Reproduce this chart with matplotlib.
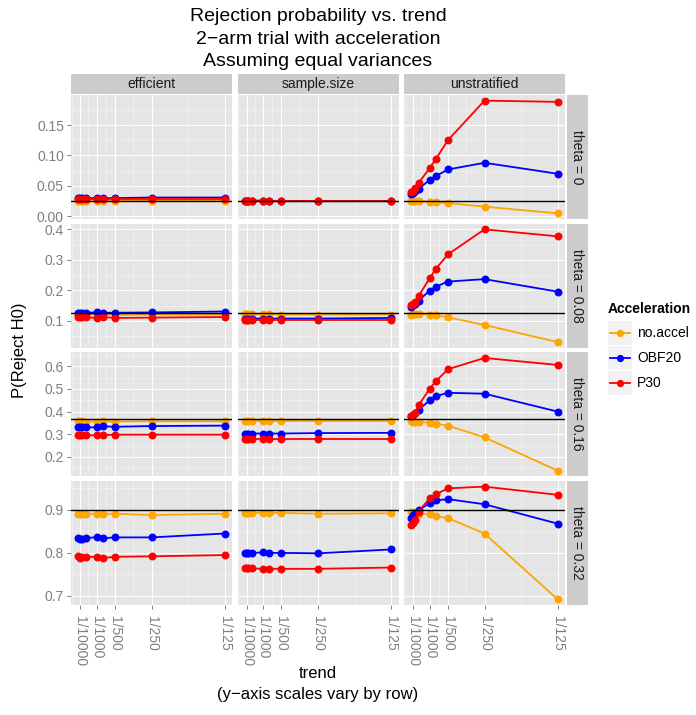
import numpy as np
import matplotlib.pyplot as plt
from matplotlib.lines import Line2D
from matplotlib.patches import Rectangle

plt.rcParams['font.family'] = ['Liberation Sans', 'DejaVu Sans']

# x values (trend) and axis breaks
trend = [0, 1/10000, 1/5000, 1/2500, 1/1000, 1/750, 1/500, 1/250, 1/125]
trend_breaks = [1/10000, 1/1000, 1/500, 1/250, 1/125]
trend_labels = ["1/10000", "1/1000", "1/500", "1/250", "1/125"]

methods = ["efficient", "sample.size", "unstratified"]
thetas = ["0", "0.08", "0.16", "0.32"]
accel = ["no.accel", "OBF20", "P30"]
accel_colors = ["orange", "blue", "red"]
fixed_power = [0.025, 0.125, 0.367, 0.9]

row_breaks = [[0.00, 0.05, 0.10, 0.15], [0.1, 0.2, 0.3, 0.4],
              [0.2, 0.3, 0.4, 0.5, 0.6], [0.7, 0.8, 0.9]]
row_fmt = ["%.2f", "%.1f", "%.1f", "%.1f"]

# P(Reject H0) by theta; each dict: method -> [no.accel, OBF20, P30]
theta_0 = {
    "efficient": [[0.025, 0.025, 0.025, 0.025, 0.025, 0.025, 0.026, 0.026, 0.026],
                  [0.031, 0.031, 0.030, 0.030, 0.030, 0.030, 0.030, 0.031, 0.031],
                  [0.028, 0.028, 0.028, 0.028, 0.028, 0.028, 0.028, 0.028, 0.028]],
    "sample.size": [[0.026, 0.026, 0.026, 0.026, 0.026, 0.026, 0.026, 0.026, 0.026],
                    [0.026, 0.026, 0.025, 0.026, 0.026, 0.025, 0.025, 0.025, 0.025],
                    [0.025, 0.025, 0.025, 0.025, 0.025, 0.025, 0.025, 0.025, 0.025]],
    "unstratified": [[0.025, 0.025, 0.025, 0.025, 0.024, 0.023, 0.022, 0.016, 0.005],
                     [0.037, 0.039, 0.041, 0.045, 0.060, 0.066, 0.077, 0.088, 0.070],
                     [0.040, 0.042, 0.046, 0.055, 0.079, 0.094, 0.125, 0.190, 0.188]],
}
theta_008 = {
    "efficient": [[0.121, 0.121, 0.121, 0.121, 0.121, 0.121, 0.120, 0.121, 0.121],
                  [0.127, 0.127, 0.127, 0.127, 0.128, 0.127, 0.127, 0.128, 0.131],
                  [0.112, 0.112, 0.112, 0.112, 0.110, 0.113, 0.110, 0.111, 0.113]],
    "sample.size": [[0.122, 0.122, 0.122, 0.122, 0.122, 0.122, 0.121, 0.121, 0.121],
                    [0.108, 0.108, 0.108, 0.108, 0.108, 0.108, 0.108, 0.108, 0.110],
                    [0.103, 0.103, 0.103, 0.103, 0.103, 0.103, 0.103, 0.103, 0.103]],
    "unstratified": [[0.121, 0.122, 0.123, 0.124, 0.121, 0.119, 0.112, 0.087, 0.031],
                     [0.146, 0.152, 0.157, 0.167, 0.199, 0.212, 0.229, 0.237, 0.196],
                     [0.152, 0.157, 0.163, 0.182, 0.240, 0.270, 0.318, 0.400, 0.377]],
}
theta_016 = {
    "efficient": [[0.357, 0.357, 0.357, 0.356, 0.356, 0.357, 0.356, 0.357, 0.357],
                  [0.332, 0.330, 0.331, 0.331, 0.330, 0.335, 0.333, 0.336, 0.338],
                  [0.298, 0.297, 0.298, 0.296, 0.295, 0.296, 0.298, 0.298, 0.298]],
    "sample.size": [[0.360, 0.360, 0.360, 0.360, 0.360, 0.360, 0.360, 0.360, 0.360],
                    [0.303, 0.303, 0.303, 0.303, 0.303, 0.303, 0.303, 0.305, 0.306],
                    [0.278, 0.278, 0.278, 0.278, 0.278, 0.278, 0.278, 0.278, 0.278]],
    "unstratified": [[0.357, 0.356, 0.356, 0.354, 0.351, 0.347, 0.338, 0.286, 0.139],
                     [0.379, 0.387, 0.394, 0.409, 0.449, 0.468, 0.483, 0.479, 0.400],
                     [0.379, 0.387, 0.394, 0.428, 0.501, 0.533, 0.587, 0.637, 0.606]],
}
theta_032 = {
    "efficient": [[0.891, 0.891, 0.891, 0.891, 0.891, 0.891, 0.891, 0.888, 0.891],
                  [0.834, 0.832, 0.833, 0.835, 0.836, 0.834, 0.836, 0.836, 0.845],
                  [0.793, 0.789, 0.790, 0.791, 0.791, 0.788, 0.791, 0.792, 0.795]],
    "sample.size": [[0.893, 0.893, 0.893, 0.893, 0.893, 0.893, 0.893, 0.891, 0.892],
                    [0.800, 0.800, 0.799, 0.800, 0.801, 0.800, 0.800, 0.799, 0.808],
                    [0.765, 0.764, 0.765, 0.764, 0.763, 0.763, 0.763, 0.763, 0.766]],
    "unstratified": [[0.894, 0.894, 0.893, 0.891, 0.890, 0.885, 0.881, 0.845, 0.692],
                     [0.882, 0.888, 0.892, 0.900, 0.915, 0.922, 0.925, 0.913, 0.868],
                     [0.865, 0.869, 0.877, 0.896, 0.927, 0.936, 0.950, 0.954, 0.935]],
}
rows_data = [theta_0, theta_008, theta_016, theta_032]

W, H = 696, 715
fig = plt.figure(figsize=(W / 100, H / 100), dpi=100)


def box(x, y, w, h):
    # pixel box from top-left -> figure fraction rect
    return [x / W, 1 - (y + h) / H, w / W, h / H]


col_left = [71, 237.5, 404]
col_w = 161
row_top = [95, 223.7, 352.3, 481]
row_h = 124

grey50 = "#7F7F7F"
x_minor = np.array(trend_breaks)
x_minor = np.concatenate([[x_minor[0] - (x_minor[1] - x_minor[0])], x_minor])
x_minor = (x_minor[:-1] + x_minor[1:]) / 2

axes = []
for r in range(4):
    row_axes = []
    for c in range(3):
        ax = fig.add_axes(box(col_left[c], row_top[r], col_w, row_h),
                          sharey=row_axes[0] if c else None)
        ax.set_facecolor("#E5E5E5")
        for s in ax.spines.values():
            s.set_visible(False)
        vals = rows_data[r][methods[c]]
        for k in range(3):
            ax.plot(trend, vals[k], color=accel_colors[k], lw=1.3, marker="o",
                    ms=4.7, mec=accel_colors[k], zorder=3)
        ax.axhline(fixed_power[r], color="black", lw=1.0, zorder=4)
        row_axes.append(ax)
    axes.append(row_axes)

for r in range(4):
    lo, hi = axes[r][0].get_ylim()
    br = row_breaks[r]
    step = br[1] - br[0]
    y_minor = np.arange(br[0] - step / 2, br[-1] + step, step)
    y_minor = y_minor[(y_minor > lo) & (y_minor < hi)]
    for c in range(3):
        ax = axes[r][c]
        ax.set_ylim(lo, hi)
        ax.set_xlim(-0.0004, 0.0084)
        ax.set_xticks(trend_breaks)
        ax.set_yticks(br)
        for xm in x_minor:
            ax.axvline(xm, color="#F2F2F2", lw=0.5, zorder=1)
        for ym in y_minor:
            ax.axhline(ym, color="#F2F2F2", lw=0.5, zorder=1)
        ax.grid(True, color="white", lw=0.8, zorder=1)
        ax.set_axisbelow(True)
        ax.tick_params(color=grey50, length=3.1, width=0.7, labelcolor=grey50,
                       labelsize=10, pad=2)
        if c == 0:
            ax.set_yticklabels([row_fmt[r] % v for v in br])
        else:
            ax.tick_params(axis="y", length=0, labelleft=False)
        if r == 3:
            ax.set_xticklabels(trend_labels, rotation=-90, va="top", ha="center")
            ax.tick_params(axis="x", pad=5)
        else:
            ax.tick_params(axis="x", length=0, labelbottom=False)

# strips
for c in range(3):
    sax = fig.add_axes(box(col_left[c], 74, col_w, 20))
    sax.set_facecolor("#CCCCCC")
    sax.set_xticks([]); sax.set_yticks([])
    for s in sax.spines.values():
        s.set_visible(False)
    sax.text(0.5, 0.5, methods[c], ha="center", va="center", fontsize=10,
             color="#1A1A1A")
for r in range(4):
    sax = fig.add_axes(box(566.5, row_top[r], 21, row_h))
    sax.set_facecolor("#CCCCCC")
    sax.set_xticks([]); sax.set_yticks([])
    for s in sax.spines.values():
        s.set_visible(False)
    sax.text(0.5, 0.5, "theta = " + thetas[r], ha="center", va="center",
             rotation=-90, fontsize=10, color="#1A1A1A")

# titles
cx = (col_left[0] + col_left[2] + col_w) / 2 / W
fig.text(cx, 1 - 39 / H, "Rejection probability vs. trend\n2\u2212arm trial with acceleration\nAssuming equal variances",
         ha="center", va="center", fontsize=14, linespacing=1.42)
fig.text(cx, 1 - 684 / H, "trend\n(y\u2212axis scales vary by row)", ha="center",
         va="center", fontsize=12, linespacing=1.45)
fig.text(20 / W, 1 - 350 / H, "P(Reject H0)", ha="center", va="center",
         rotation=90, fontsize=12)

# legend
fig.text(608 / W, 1 - 309 / H, "Acceleration", ha="left", va="center",
         fontsize=10, fontweight="bold")
for k in range(3):
    yc = 333 + 25 * k
    fig.add_artist(Rectangle(((608) / W, 1 - (yc + 12) / H), 24 / W, 24 / H,
                             transform=fig.transFigure, color="#F2F2F2", lw=0))
    fig.add_artist(Line2D([610 / W, 630 / W], [1 - yc / H] * 2, color=accel_colors[k],
                          lw=1.3, marker=None, transform=fig.transFigure))
    fig.add_artist(Line2D([620 / W], [1 - yc / H], color=accel_colors[k], marker="o",
                          ms=4.2, transform=fig.transFigure))
    fig.text(637 / W, 1 - yc / H, accel[k], ha="left", va="center", fontsize=10)

fig.savefig("out.png", dpi=100)
